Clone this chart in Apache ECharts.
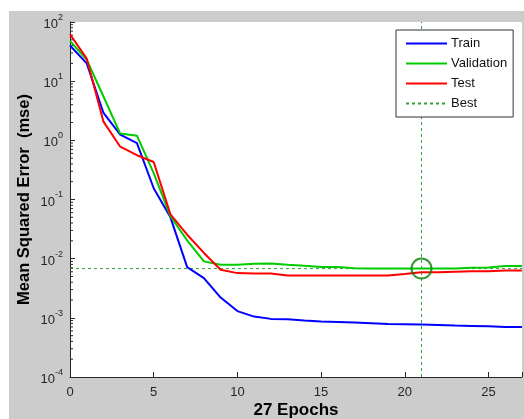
<!DOCTYPE html>
<html>
<head>
    <meta charset="utf-8">
    <title>Performance</title>
    <style>
        html, body {
            margin: 0;
            padding: 0;
            background: #ffffff;
        }

        #main {
            width: 524px;
            height: 419px;
        }
    </style>
</head>
<body>
    <div id="main"></div>
</body>
<script type="text/javascript" src="https://cdn.jsdelivr.net/npm/echarts@6/dist/echarts.min.js"></script>
<script type="text/javascript">
    // 数据
    var epochs = [];
    for (var e = 0; e <= 27; e++) epochs.push(e);

    var trainMse = [40, 20, 2.9, 1.25, 0.9, 0.155, 0.05, 0.0072, 0.0047, 0.0022, 0.0013, 0.00105, 0.00096, 0.00095,
        0.0009, 0.00087, 0.00085, 0.00083, 0.00081, 0.00079, 0.00078, 0.00077, 0.00076, 0.00074, 0.00073, 0.00072,
        0.0007, 0.0007];
    var validMse = [48, 23, 5.5, 1.3, 1.2, 0.28, 0.052, 0.0204, 0.009, 0.0079, 0.0079, 0.0082, 0.0083, 0.0079,
        0.0076, 0.0072, 0.0072, 0.0069, 0.0068, 0.0068, 0.0068, 0.0068, 0.0068, 0.0068, 0.007, 0.0071, 0.0075, 0.0075];
    var testMse = [62, 24, 2.07, 0.78, 0.56, 0.43, 0.056, 0.0254, 0.0125, 0.0065, 0.0057, 0.0056, 0.0056, 0.0052,
        0.0052, 0.0052, 0.0052, 0.0052, 0.0052, 0.0052, 0.0055, 0.0059, 0.0059, 0.006, 0.0061, 0.0061, 0.0063, 0.0063];

    var bestEpoch = 21;
    var bestValue = validMse[bestEpoch];

    var xMin = 0, xMax = 27;
    var yMin = 1e-4, yMax = 1e2;
    var xTicks = [0, 5, 10, 15, 20, 25];

    function pairs(arr) {
        return arr.map(function(v, i) { return [epochs[i], v]; });
    }

    // 对数轴次刻度 (2..9 x 10^n)
    var minorTicks = [];
    for (var p = -4; p < 2; p++) {
        for (var k = 2; k <= 9; k++) minorTicks.push([0, k * Math.pow(10, p)]);
    }

    var FONT = '"Liberation Sans", Arial, sans-serif';
    var BEST_COLOR = '#36a336';
    var myChart = echarts.init(document.getElementById('main'));

    option = {
        backgroundColor: '#ffffff',
        animation: false,
        graphic: [{
            type: 'rect',
            z: -100,
            shape: { x: 9, y: 11, width: 515, height: 408 },
            style: { fill: '#cccccc' }
        }],
        grid: {
            left: 70,
            top: 22,
            right: 2.07,
            bottom: 42,
            outerBoundsMode: 'none',
            containLabel: false,
            show: true,
            backgroundColor: '#ffffff',
            borderWidth: 0
        },
        legend: {
            orient: 'vertical',
            left: 396,
            top: 30,
            padding: [7, 6, 7, 9],
            itemGap: 7,
            itemWidth: 41,
            itemHeight: 12,
            backgroundColor: '#ffffff',
            borderColor: '#333333',
            borderWidth: 1,
            itemStyle: { opacity: 0 },
            textStyle: {
                fontFamily: FONT,
                fontSize: 13,
                color: '#111111',
                padding: [0, 0, 0, -1]
            },
            data: ['Train', 'Validation', 'Test', 'Best']
        },
        xAxis: {
            type: 'value',
            min: xMin,
            max: xMax,
            interval: 5,
            name: '27 Epochs',
            nameLocation: 'middle',
            nameGap: 25,
            nameMoveOverlap: false,
            nameTextStyle: {
                fontFamily: FONT,
                fontSize: 17,
                fontWeight: 'bold',
                color: '#000000'
            },
            axisLine: { lineStyle: { color: '#262626', width: 1 } },
            axisTick: { inside: true, length: 5, lineStyle: { color: '#262626' } },
            axisLabel: {
                fontFamily: FONT,
                fontSize: 13,
                color: '#262626',
                margin: 9,
                formatter: function(v) {
                    return xTicks.indexOf(v) >= 0 ? String(v) : '';
                }
            },
            splitLine: { show: false }
        },
        yAxis: {
            type: 'log',
            logBase: 10,
            min: yMin,
            max: yMax,
            name: 'Mean Squared Error  (mse)',
            nameLocation: 'middle',
            nameGap: 37,
            nameMoveOverlap: false,
            nameTextStyle: {
                fontFamily: FONT,
                fontSize: 16.5,
                fontWeight: 'bold',
                color: '#000000'
            },
            axisLine: { show: true, lineStyle: { color: '#262626', width: 1 } },
            axisTick: { inside: true, length: 5, lineStyle: { color: '#262626' } },
            axisLabel: {
                margin: 7,
                formatter: function(v) {
                    var ex = Math.round(Math.log(v) / Math.LN10);
                    return '{b|10}{s|' + ex + '}';
                },
                rich: {
                    b: {
                        fontFamily: FONT,
                        fontSize: 13,
                        color: '#262626',
                        verticalAlign: 'bottom'
                    },
                    s: {
                        fontFamily: FONT,
                        fontSize: 9,
                        color: '#262626',
                        verticalAlign: 'bottom',
                        padding: [0, 0, 9, 0]
                    }
                }
            },
            splitLine: { show: false }
        },
        series: [{
            name: 'Train',
            type: 'line',
            data: pairs(trainMse),
            showSymbol: false,
            symbol: 'none',
            color: '#0000ff',
            lineStyle: { width: 2, color: '#0000ff' }
        }, {
            name: 'Validation',
            type: 'line',
            data: pairs(validMse),
            showSymbol: false,
            symbol: 'none',
            color: '#00cc00',
            lineStyle: { width: 2, color: '#00cc00' }
        }, {
            name: 'Test',
            type: 'line',
            data: pairs(testMse),
            showSymbol: false,
            symbol: 'none',
            color: '#ff0000',
            lineStyle: { width: 2, color: '#ff0000' }
        }, {
            // 最佳验证值的水平线
            name: 'Best',
            type: 'line',
            data: [[xMin, bestValue], [xMax, bestValue]],
            symbol: 'none',
            showSymbol: false,
            color: BEST_COLOR,
            lineStyle: { width: 1, type: [3, 3], color: BEST_COLOR },
            z: 1
        }, {
            // 最佳 epoch 的竖线
            name: 'Best',
            type: 'line',
            data: [[bestEpoch, yMin], [bestEpoch, yMax]],
            symbol: 'none',
            showSymbol: false,
            color: BEST_COLOR,
            lineStyle: { width: 1, type: [3, 3], color: BEST_COLOR },
            z: 1
        }, {
            name: 'BestPoint',
            type: 'scatter',
            data: [[bestEpoch, bestValue]],
            symbol: 'circle',
            symbolSize: 20,
            itemStyle: {
                color: 'rgba(0,0,0,0)',
                borderColor: '#008000',
                borderWidth: 2
            },
            z: 5
        }, {
            name: 'minorTicks',
            type: 'custom',
            data: minorTicks,
            silent: true,
            renderItem: function(params, api) {
                var pt = api.coord([api.value(0), api.value(1)]);
                return {
                    type: 'line',
                    shape: { x1: pt[0], y1: pt[1], x2: pt[0] + 3, y2: pt[1] },
                    style: { stroke: '#262626', lineWidth: 1 }
                };
            }
        }]
    };
    myChart.setOption(option);
</script>
</html>
